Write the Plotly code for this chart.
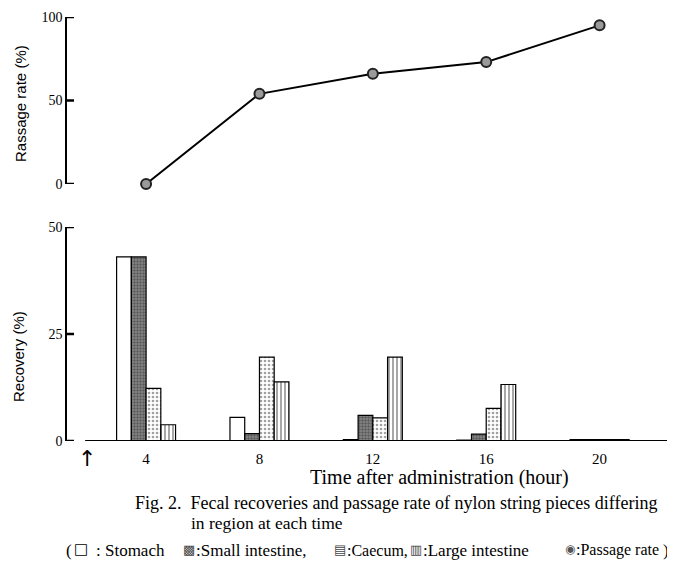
import plotly.graph_objects as go

# ---- data ----
hours = [4, 8, 12, 16, 20]
passage_rate = [0, 54, 66, 73, 95]
stomach = [43, 5.5, 0.3, 0.2, 0.3]
small_intestine = [43, 1.7, 6, 1.6, 0.3]
caecum = [12.3, 19.6, 5.4, 7.6, 0.3]
large_intestine = [3.8, 13.8, 19.6, 13.2, 0.3]
tick_vals = [4, 8, 12, 16, 20]
tick_text = ["4", "8", "12", "16", "20"]
rate_ticks = [0, 50, 100]
recovery_ticks = [0, 25, 50]

SERIF = "Liberation Serif"
SANS = "Liberation Sans"
OFF = 8                      # page body margin
W, H = 675 - OFF, 566 - OFF

def px_x(p):
    return (p - OFF) / W

def px_y(p):
    return 1 - (p - OFF) / H

fig = go.Figure()

bar_line = dict(color="black", width=1.2)
fig.add_trace(go.Bar(x=hours, y=stomach, name="Stomach", xaxis="x", yaxis="y",
                     marker=dict(color="white", line=bar_line)))
fig.add_trace(go.Bar(x=hours, y=small_intestine, name="Small intestine", xaxis="x", yaxis="y",
                     marker=dict(color="#6e6e6e", line=bar_line,
                                 pattern=dict(shape=".", fgcolor="#2a2a2a", bgcolor="#8a8a8a",
                                              size=3, solidity=0.5))))
fig.add_trace(go.Bar(x=hours, y=caecum, name="Caecum", xaxis="x", yaxis="y",
                     marker=dict(color="white", line=bar_line,
                                 pattern=dict(shape=".", fgcolor="#444", bgcolor="white",
                                              size=4, solidity=0.35))))
fig.add_trace(go.Bar(x=hours, y=large_intestine, name="Large intestine", xaxis="x", yaxis="y",
                     marker=dict(color="white", line=bar_line,
                                 pattern=dict(shape="|", fgcolor="#222", bgcolor="white",
                                              size=4, solidity=0.4))))
fig.add_trace(go.Scatter(x=hours, y=passage_rate, name="Passage rate", xaxis="x2", yaxis="y2",
                         mode="lines+markers", cliponaxis=False,
                         line=dict(color="black", width=2),
                         marker=dict(size=10, color="#9a9a9a",
                                     line=dict(color="#222", width=2))))

x0 = 67
xr = [1.21, 22.66]
yaxis_common = dict(showgrid=False, zeroline=False, automargin=False,
                    showline=True, linecolor="black", linewidth=1.5,
                    ticks="", ticksuffix="  ", tickfont=dict(family=SERIF, size=14))
fig.update_layout(
    width=W, height=H,
    margin=dict(l=0, r=0, t=0, b=0, autoexpand=False),
    paper_bgcolor="white", plot_bgcolor="white",
    font=dict(family=SERIF, color="black", size=14),
    barmode="group", bargap=0.48, bargroupgap=0,
    showlegend=False,
    xaxis=dict(domain=[px_x(x0), 1], range=xr, anchor="y", automargin=False,
               tickvals=tick_vals, ticktext=tick_text, showgrid=False, zeroline=False,
               showline=False, ticks="outside", ticklen=4, tickcolor="rgba(0,0,0,0)",
               tickfont=dict(family=SERIF, size=15)),
    xaxis2=dict(domain=[px_x(x0), 1], range=xr, anchor="y2", matches="x", automargin=False,
                showticklabels=False, showgrid=False, zeroline=False, showline=False, ticks=""),
    yaxis=dict(domain=[px_y(441), px_y(227)], range=[0, 50], anchor="x",
               tickvals=recovery_ticks, **yaxis_common),
    yaxis2=dict(domain=[px_y(184), px_y(17)], range=[0, 100], anchor="x2",
                tickvals=rate_ticks, **yaxis_common),
)

# baseline of the bar chart
fig.add_shape(type="line", xref="x", yref="y", x0=1.85, x1=xr[1], y0=0, y1=0,
              line=dict(color="black", width=2))

# inward-pointing tick marks on both y axes
tick_x0, tick_x1 = px_x(x0 - 0.5), px_x(x0 + 7)
for v in rate_ticks:
    fig.add_shape(type="line", xref="paper", yref="y2", x0=tick_x0, x1=tick_x1, y0=v, y1=v,
                  line=dict(color="black", width=2.5), layer="above")
for v in recovery_ticks:
    fig.add_shape(type="line", xref="paper", yref="y", x0=tick_x0, x1=tick_x1, y0=v, y1=v,
                  line=dict(color="black", width=2.5), layer="above")

LY = 550
ann = [
    dict(text="Rassage rate (%)", x=px_x(20), y=px_y(104), textangle=-90,
         xanchor="center", yanchor="middle", font=dict(family=SANS, size=15)),
    dict(text="Recovery (%)", x=px_x(18), y=px_y(357), textangle=-90,
         xanchor="center", yanchor="middle", font=dict(family=SANS, size=15)),
    dict(text="Time after administration (hour)", x=px_x(440), y=px_y(477),
         xanchor="center", yanchor="middle", font=dict(family=SERIF, size=20)),
    dict(text="Fig. 2.  Fecal recoveries and passage rate of nylon string pieces differing",
         x=px_x(133), y=px_y(503), xanchor="left", yanchor="middle",
         font=dict(family=SERIF, size=18)),
    dict(text="in region at each time", x=px_x(189), y=px_y(523), xanchor="left",
         yanchor="middle", font=dict(family=SERIF, size=17.5)),
    # legend line
    dict(text="(", x=px_x(64), y=px_y(LY), xanchor="left", yanchor="middle",
         font=dict(family=SERIF, size=17)),
    dict(text="□", x=px_x(81), y=px_y(LY - 1), xanchor="center", yanchor="middle",
         font=dict(family="DejaVu Sans", size=15)),
    dict(text=": Stomach", x=px_x(94), y=px_y(LY), xanchor="left", yanchor="middle",
         font=dict(family=SERIF, size=17)),
    dict(text="▩", x=px_x(189), y=px_y(LY - 1), xanchor="center", yanchor="middle",
         font=dict(family="DejaVu Sans", size=13, color="#444")),
    dict(text=":Small intestine,", x=px_x(194), y=px_y(LY), xanchor="left", yanchor="middle",
         font=dict(family=SERIF, size=17)),
    dict(text="▤", x=px_x(340), y=px_y(LY - 1), xanchor="center", yanchor="middle",
         font=dict(family="DejaVu Sans", size=13, color="#444")),
    dict(text=":Caecum,", x=px_x(345), y=px_y(LY), xanchor="left", yanchor="middle",
         font=dict(family=SERIF, size=16)),
    dict(text="▥", x=px_x(416), y=px_y(LY - 1), xanchor="center", yanchor="middle",
         font=dict(family="DejaVu Sans", size=13, color="#444")),
    dict(text=":Large intestine", x=px_x(421), y=px_y(LY), xanchor="left", yanchor="middle",
         font=dict(family=SERIF, size=17)),
    dict(text="◉", x=px_x(570), y=px_y(LY - 1), xanchor="center", yanchor="middle",
         font=dict(family="DejaVu Sans", size=12, color="#555")),
    dict(text=":Passage rate", x=px_x(574), y=px_y(LY), xanchor="left", yanchor="middle",
         font=dict(family=SERIF, size=16)),
    dict(text=")", x=px_x(661), y=px_y(LY), xanchor="left", yanchor="middle",
         font=dict(family=SERIF, size=17)),
]
for a in ann:
    fig.add_annotation(xref="paper", yref="paper", showarrow=False, **a)

fig.add_annotation(xref="x", yref="paper", x=1.92, y=px_y(458), text="↑", showarrow=False,
                   xanchor="center", yanchor="middle",
                   font=dict(family="DejaVu Sans", size=22))

fig.write_html("out.html")
